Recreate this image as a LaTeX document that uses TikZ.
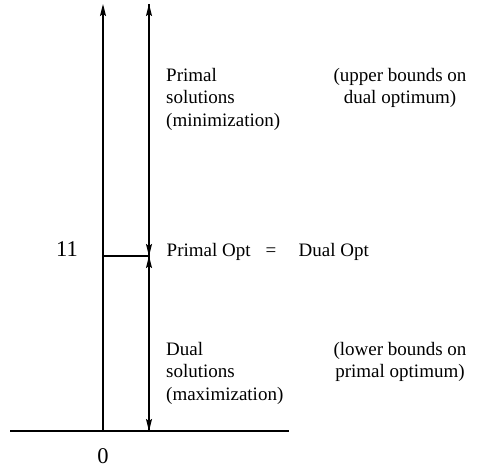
\documentclass[tikz,border=0pt]{standalone}
\usepackage{fontspec}
\setmainfont{Liberation Serif}
\usetikzlibrary{arrows.meta}
\begin{document}
\begin{tikzpicture}[x=1pt,y=-1pt,
  line/.style={line width=1.5pt},
  arr/.style={line width=1.5pt,-{Stealth[length=12pt,width=6pt,inset=2pt]}},
  lbl/.style={inner sep=0pt,font=\fontsize{19}{22.5}\selectfont},
  num/.style={inner sep=0pt,font=\fontsize{22.5}{26}\selectfont}]
\useasboundingbox (0,0) rectangle (477,468);
\coordinate (top1) at (103,4);
\coordinate (o) at (103,431);
\coordinate (mid1) at (103,256);
\coordinate (top2) at (149,4);
\coordinate (mid2) at (149,256);
\coordinate (bot2) at (149,431);
\coordinate (bl) at (10,431);
\coordinate (br) at (289,431);
% axes
\draw[line] (bl) -- (br);
\draw[arr] (o) -- (top1);
\draw[line] (mid1) -- (mid2);
\draw[arr] (mid2) -- (top2);
\draw[arr] (top2) -- (mid2);
\draw[arr] (bot2) -- (mid2);
\draw[arr] (mid2) -- (bot2);
% labels
\node[num,anchor=base east] (eleven) at (78,256) {11};
\node[num,anchor=base] (zero) at (103,463) {0};
\node[lbl,anchor=base west] (popt) at (166.5,256) {Primal Opt};
\node[lbl,anchor=base] (eq) at (271,256) {=};
\node[lbl,anchor=base east] (dopt) at (369,256) {Dual Opt};
\node[lbl,anchor=north west,align=left] (psol) at (166,65.5)
  {\strut Primal\\solutions\\(minimization)};
\node[lbl,anchor=north,align=center] (ub) at (400,65.5)
  {\strut(upper bounds on\\dual optimum)};
\node[lbl,anchor=north west,align=left] (dsol) at (166,339.5)
  {\strut Dual\\solutions\\(maximization)};
\node[lbl,anchor=north,align=center] (lb) at (400,339.5)
  {\strut(lower bounds on\\primal optimum)};
\end{tikzpicture}
\end{document}
